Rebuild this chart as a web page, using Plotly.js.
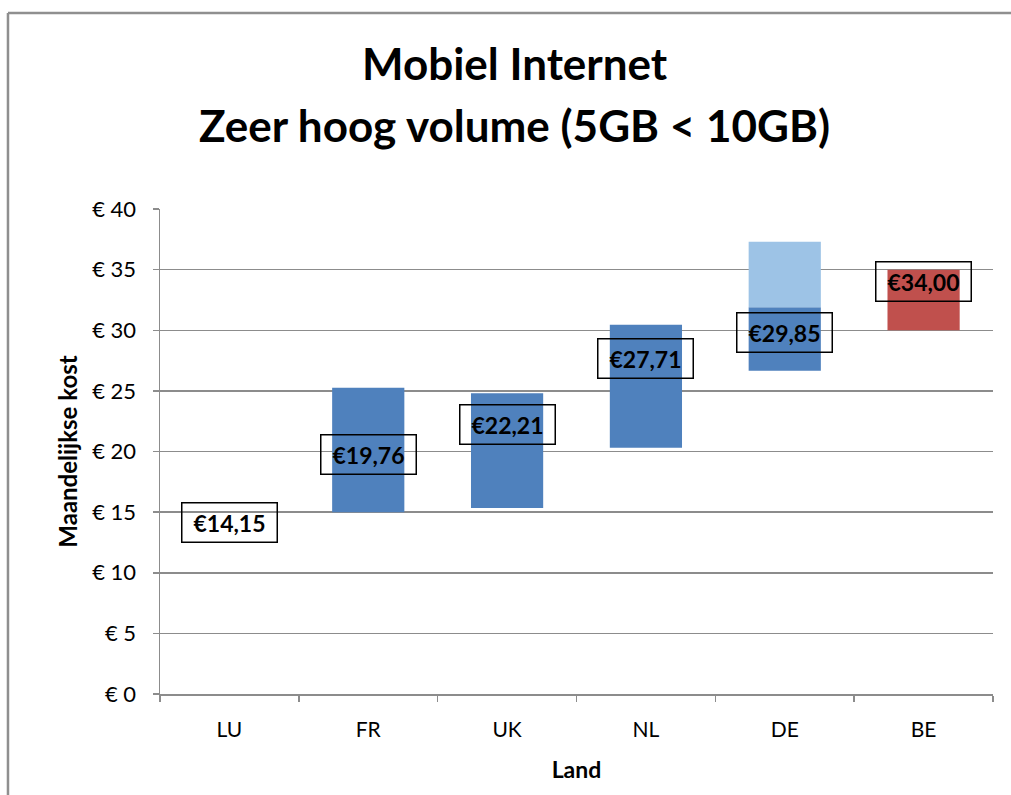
<!DOCTYPE html>
<html>
<head>
<meta charset="utf-8">
<script src="https://cdn.plot.ly/plotly-3.0.1.min.js"></script>
<style>
  html, body { margin: 0; padding: 0; background: #ffffff; }
  #chart { width: 1011px; height: 795px; }
</style>
</head>
<body>
<div id="chart"></div>
<script>
// Data
var countries = ['LU', 'FR', 'UK', 'NL', 'DE', 'BE'];
var medianValues = [14.15, 19.76, 22.21, 27.71, 29.85, 34.00];
var rangeLow  = [null, 15.00, 15.35, 20.30, 26.65, 30.00];
var rangeHigh = [null, 25.25, 24.80, 30.45, 31.90, 35.00];
var extraLow  = [null, null, null, null, 31.90, null];
var extraHigh = [null, null, null, null, 37.30, null];
var yTickValues = [0, 5, 10, 15, 20, 25, 30, 35, 40];
var yTickLabels = ['€ 0', '€ 5', '€ 10', '€ 15', '€ 20', '€ 25', '€ 30', '€ 35', '€ 40'];

var FONT = 'Lato, "Open Sans", "Liberation Sans", sans-serif';
var rangeColors = countries.map(function (c) { return c === 'BE' ? '#C0504D' : '#4F81BD'; });

var lens = rangeHigh.map(function (h, i) { return (h === null || rangeLow[i] === null) ? null : h - rangeLow[i]; });
var extraLens = extraHigh.map(function (h, i) { return (h === null || extraLow[i] === null) ? null : h - extraLow[i]; });

var traces = [
  {
    type: 'bar', x: countries, y: lens, base: rangeLow,
    marker: { color: rangeColors }, width: 0.52, hoverinfo: 'skip', showlegend: false
  },
  {
    type: 'bar', x: countries, y: extraLens, base: extraLow,
    marker: { color: '#9DC3E6' }, width: 0.52, hoverinfo: 'skip', showlegend: false
  },
  {
    type: 'scatter', mode: 'markers', x: countries, y: medianValues,
    marker: { size: 1, color: 'rgba(0,0,0,0)' }, hoverinfo: 'skip', showlegend: false
  }
];

function fmt(v) { return '€' + v.toFixed(2).replace('.', ','); }

var annotations = countries.map(function (c, i) {
  return {
    x: c, y: medianValues[i], xref: 'x', yref: 'y',
    text: '<b>' + fmt(medianValues[i]) + '</b>',
    showarrow: false,
    font: { family: FONT, size: 23, color: '#000000' },
    bordercolor: '#000000', borderwidth: 1.5, borderpad: 0,
    width: 94, height: 38, align: 'center', valign: 'middle',
    xanchor: 'center', yanchor: 'middle'
  };
});

annotations.push({
  xref: 'paper', yref: 'paper', x: 0.4258, y: 1 + (209 - 63) / 485,
  text: '<b>Mobiel Internet</b>', showarrow: false,
  font: { family: FONT, size: 44, color: '#000000' }, xanchor: 'center', yanchor: 'middle'
});
annotations.push({
  xref: 'paper', yref: 'paper', x: 0.4258, y: 1 + (209 - 125) / 485,
  text: '<b>Zeer hoog volume (5GB < 10GB)</b>', showarrow: false,
  font: { family: FONT, size: 44, color: '#000000' }, xanchor: 'center', yanchor: 'middle'
});

// outer chart-area frame (left and top edges visible in the reference)
var shapes = [
  { type: 'line', xref: 'paper', yref: 'paper', x0: -0.1825, x1: -0.1825, y0: 1.404, y1: -0.25,
    line: { color: '#8f8f8f', width: 2.5 } },
  { type: 'line', xref: 'paper', yref: 'paper', x0: -0.1825, x1: 1.05, y0: 1.404, y1: 1.404,
    line: { color: '#8f8f8f', width: 2.5 } }
];

var layout = {
  width: 1011, height: 795,
  margin: { l: 160, r: 18, t: 209, b: 101 },
  paper_bgcolor: '#ffffff', plot_bgcolor: '#ffffff',
  barmode: 'overlay',
  font: { family: FONT, color: '#000000' },
  xaxis: {
    type: 'category',
    tickson: 'boundaries', ticks: 'outside', ticklen: 6, tickcolor: '#8c8c8c', tickwidth: 1.5,
    ticklabelstandoff: 16,
    showline: true, linecolor: '#8c8c8c', linewidth: 1.5,
    showgrid: false, zeroline: false,
    tickfont: { family: FONT, size: 21, color: '#000000' },
    title: { text: '<b>Land</b>', font: { family: FONT, size: 23, color: '#000000' }, standoff: 22 },
    fixedrange: true
  },
  yaxis: {
    range: [0, 40],
    tickvals: yTickValues, ticktext: yTickLabels,
    ticks: 'outside', ticklen: 6, tickcolor: '#8c8c8c', tickwidth: 1.5,
    ticklabelstandoff: 12,
    showline: true, linecolor: '#8c8c8c', linewidth: 1.5,
    showgrid: true, gridcolor: '#8c8c8c', gridwidth: 1.5,
    zeroline: false,
    tickfont: { family: FONT, size: 22, color: '#000000' },
    title: { text: '<b>Maandelijkse kost</b>', font: { family: FONT, size: 24, color: '#000000' }, standoff: 8 },
    fixedrange: true
  },
  shapes: shapes,
  annotations: annotations,
  showlegend: false
};

Plotly.newPlot('chart', traces, layout, { displayModeBar: false, staticPlot: true });
</script>
</body>
</html>
